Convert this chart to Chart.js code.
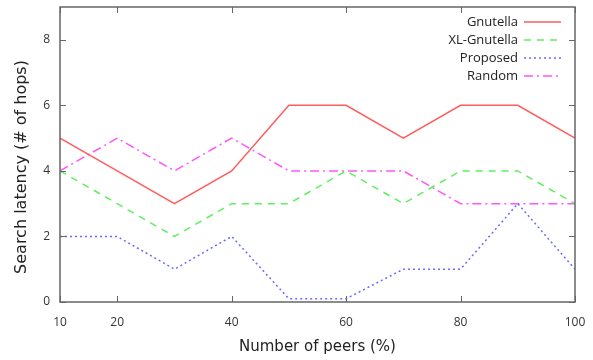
<!DOCTYPE html>
<html>
<head>
<meta charset="utf-8">
<script src="https://cdn.jsdelivr.net/npm/chart.js@4"></script>
<style>
  html, body { margin: 0; padding: 0; background: #fff; }
  #wrap { width: 593px; height: 360px; }
</style>
</head>
<body>
<div id="wrap"><canvas id="latency"></canvas></div>
<script>
const PEERS = [10, 20, 30, 40, 50, 60, 70, 80, 90, 100];
const X_TICKS = [10, 20, 40, 60, 80, 100];
const Y_TICKS = [0, 2, 4, 6, 8];
const GNUTELLA = [5, 4, 3, 4, 6, 6, 5, 6, 6, 5];
const XL_GNUTELLA = [4, 3, 2, 3, 3, 4, 3, 4, 4, 3];
const PROPOSED = [2, 2, 1, 2, 0.1, 0.1, 1, 1, 3, 1];
const RANDOM = [4, 5, 4, 5, 4, 4, 4, 3, 3, 3];
const Y_TITLE = "Search latency (# of hops)";

const FONT = "'Open Sans', 'DejaVu Sans', sans-serif";
const TITLE_FONT = "'DejaVu Sans', sans-serif";

const series = (label, values, color, dash) => ({
  label: label,
  data: values.map((v, i) => ({ x: PEERS[i], y: v })),
  borderColor: color,
  borderWidth: 1.5,
  borderDash: dash,
  pointRadius: 0,
  fill: false,
  tension: 0,
});

// gnuplot style frame: box around the plot, ticks pointing inward on all sides
const framePlugin = {
  id: "frame",
  afterDraw(chart) {
    const { ctx, chartArea: a, scales } = chart;
    ctx.save();
    ctx.strokeStyle = "#666";
    ctx.lineWidth = 1.5;
    ctx.strokeRect(a.left, a.top, a.right - a.left, a.bottom - a.top);
    ctx.lineWidth = 1;
    const len = 6;
    X_TICKS.forEach((v) => {
      const x = Math.round(scales.x.getPixelForValue(v)) + 0.5;
      ctx.beginPath();
      ctx.moveTo(x, a.bottom); ctx.lineTo(x, a.bottom - len);
      ctx.moveTo(x, a.top); ctx.lineTo(x, a.top + len);
      ctx.stroke();
    });
    Y_TICKS.forEach((v) => {
      const y = Math.round(scales.y.getPixelForValue(v)) + 0.5;
      ctx.beginPath();
      ctx.moveTo(a.left, y); ctx.lineTo(a.left + len, y);
      ctx.moveTo(a.right, y); ctx.lineTo(a.right - len, y);
      ctx.stroke();
    });

    // y title sits a bit below the plot's centre, like gnuplot puts it
    ctx.save();
    ctx.translate(22, 167);
    ctx.rotate(-Math.PI / 2);
    ctx.font = "16px " + TITLE_FONT;
    ctx.fillStyle = "#222";
    ctx.textAlign = "center";
    ctx.textBaseline = "middle";
    ctx.fillText(Y_TITLE, 0, 0);
    ctx.restore();

    // legend: label right-aligned, line sample to its right
    ctx.font = "13px " + FONT;
    ctx.textAlign = "right";
    ctx.textBaseline = "middle";
    chart.data.datasets.forEach((ds, i) => {
      const y = 22 + i * 18;
      ctx.fillStyle = "#222";
      ctx.fillText(ds.label, 518, y);
      ctx.strokeStyle = ds.borderColor;
      ctx.lineWidth = 1.5;
      ctx.setLineDash(ds.borderDash);
      ctx.beginPath();
      ctx.moveTo(524, y); ctx.lineTo(561, y);
      ctx.stroke();
      ctx.setLineDash([]);
    });
    ctx.restore();
  },
};

new Chart("latency", {
  type: "line",
  data: {
    datasets: [
      series("Gnutella", GNUTELLA, "#ff5c5c", []),
      series("XL-Gnutella", XL_GNUTELLA, "#5ef05e", [7, 6]),
      series("Proposed", PROPOSED, "#6a6aff", [2, 3]),
      series("Random", RANDOM, "#ff55ff", [9, 4, 2, 4]),
    ],
  },
  options: {
    responsive: true,
    maintainAspectRatio: false,
    animation: false,
    layout: { padding: { top: 7, right: 18, left: 0, bottom: 0 } },
    plugins: { legend: { display: false }, tooltip: { enabled: false } },
    scales: {
      x: {
        type: "linear",
        min: 10,
        max: 100,
        afterBuildTicks: (s) => { s.ticks = X_TICKS.map((v) => ({ value: v })); },
        afterFit: (s) => { s.height = 58; s.paddingLeft = 0; s.paddingRight = 0; },
        grid: { display: false, drawTicks: false },
        border: { display: false },
        ticks: { color: "#333", font: { family: FONT, size: 12 }, padding: 13, maxRotation: 0 },
        title: { display: true, text: "Number of peers (%)", color: "#222", font: { family: TITLE_FONT, size: 15 }, padding: { top: 6 } },
      },
      y: {
        type: "linear",
        min: 0,
        max: 9,
        afterBuildTicks: (s) => { s.ticks = Y_TICKS.map((v) => ({ value: v })); },
        afterFit: (s) => { s.width = 60; s.paddingTop = 0; s.paddingBottom = 0; },
        grid: { display: false, drawTicks: false },
        border: { display: false },
        ticks: { color: "#333", font: { family: FONT, size: 12 }, padding: 10 },
        title: { display: false },
      },
    },
  },
  plugins: [framePlugin],
});
</script>
</body>
</html>
